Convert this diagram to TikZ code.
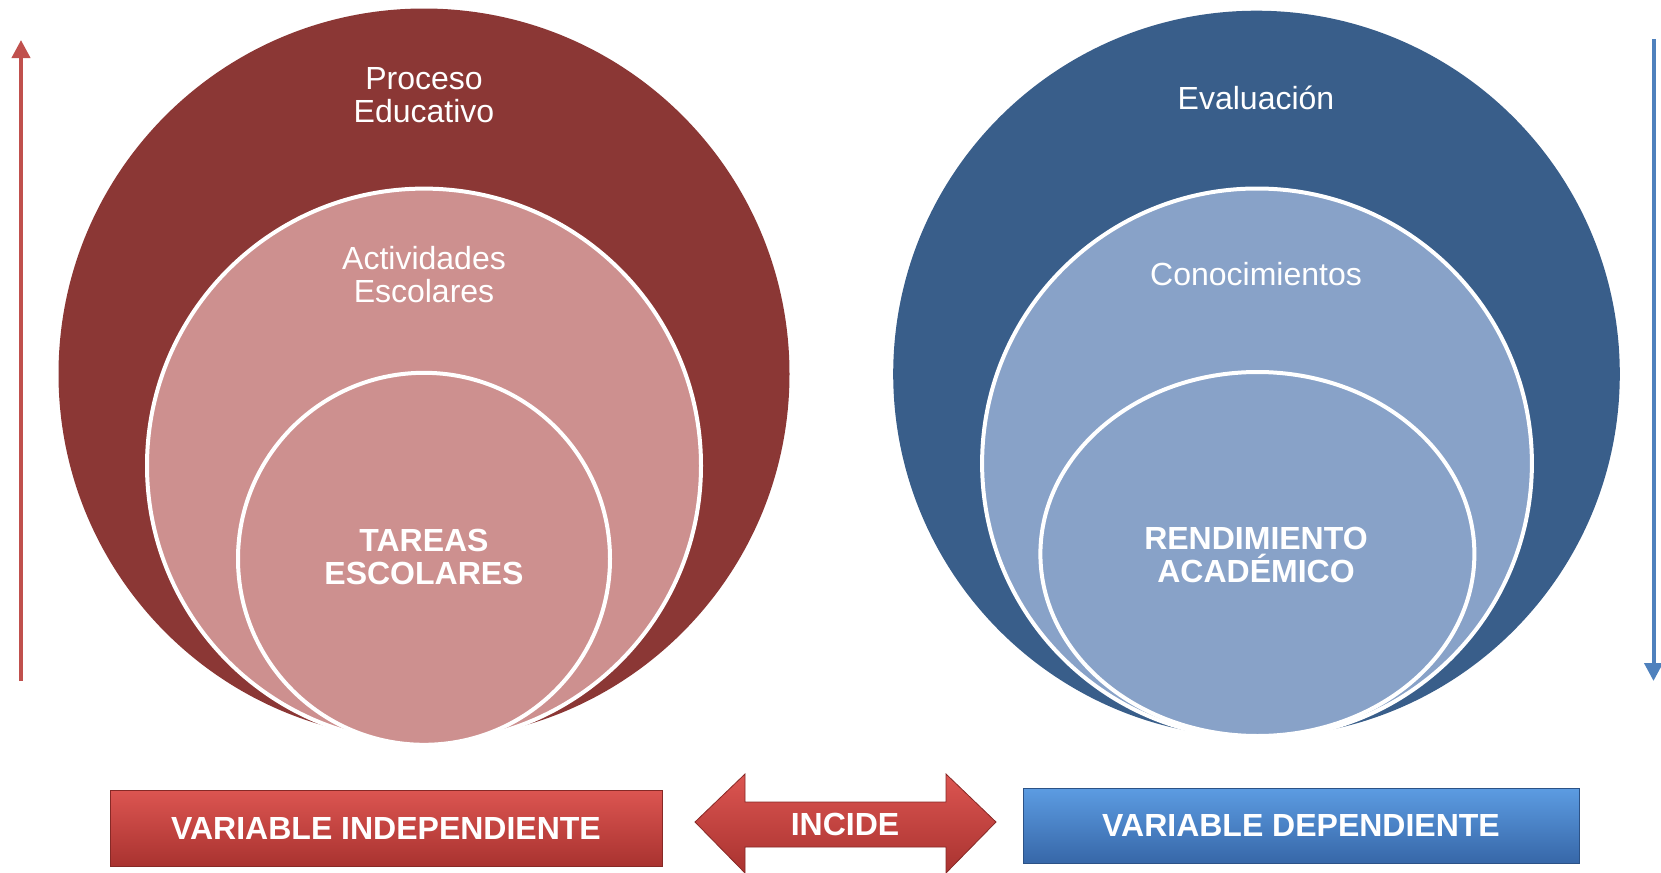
\documentclass[tikz,border=0pt]{standalone}
\usepackage{fontspec}
\setmainfont{Liberation Sans}
\usetikzlibrary{arrows.meta}
\definecolor{vinored}{HTML}{8B3735}
\definecolor{rosered}{HTML}{CD908F}
\definecolor{navyblue}{HTML}{395E8A}
\definecolor{lightblue}{HTML}{88A2C8}
\definecolor{arrowred}{HTML}{C0504D}
\definecolor{arrowblue}{HTML}{4F81BD}
\definecolor{boxredtop}{HTML}{DC5551}
\definecolor{boxredmid}{HTML}{CF4440}
\definecolor{boxredlow}{HTML}{A93330}
\definecolor{boxbluetop}{HTML}{5C9CE2}
\definecolor{boxbluemid}{HTML}{4582D0}
\definecolor{boxbluelow}{HTML}{3767A8}

\begin{document}
\begin{tikzpicture}[x=0.5pt, y=-0.5pt, font=\fontsize{16}{16.5}\selectfont,
    circletext/.style={text=white, align=center},
    boldtext/.style={text=white, align=center, font=\fontsize{16}{16.5}\selectfont\bfseries},
    ring/.style={draw=white, line width=2pt},
    redbar/.style={top color=boxredtop, middle color=boxredmid, bottom color=boxredlow, draw=boxredlow!80!black},
    bluebar/.style={top color=boxbluetop, middle color=boxbluemid, bottom color=boxbluelow, draw=boxbluelow!80!black},
    sidearrow/.style={line width=2pt, -{Triangle[length=9pt, width=9pt]}}]
    \useasboundingbox (0,0) rectangle (1661,873);
    % left circles
    \fill [vinored] (424, 374) circle (365.5);
    \filldraw [ring, fill=rosered] (424, 465.6) circle (277);
    \filldraw [ring, fill=rosered] (424, 558.8) circle (186);
    \node [circletext] (proceso)  at (424,  95.5) {Proceso\\Educativo};
    \node [circletext] (activ)    at (424, 274.5) {Actividades\\Escolares};
    \node [boldtext]   (tareas)   at (424, 556.5) {TAREAS\\ESCOLARES};
    % right circles
    \fill [navyblue] (1256.5, 374) circle (363.3);
    \filldraw [ring, fill=lightblue] (1257, 463.4) circle (274.9);
    \filldraw [ring, fill=lightblue] (1257.4, 554) ellipse [x radius=217, y radius=182];
    \node [circletext] (evalua)   at (1256,  97.5) {Evaluación};
    \node [circletext] (conoc)    at (1256, 274) {Conocimientos};
    \node [boldtext]   (rendim)   at (1256, 554.5) {RENDIMIENTO\\ACADÉMICO};
    % side arrows
    \coordinate (redlow)   at (21, 681);
    \coordinate (redtop)   at (21, 40);
    \coordinate (bluetop)  at (1653.5, 39);
    \coordinate (bluelow)  at (1653.5, 681);
    \draw [sidearrow, arrowred]  (redlow) -- (redtop);
    \draw [sidearrow, arrowblue] (bluetop) -- (bluelow);
    % bottom row
    \node [boldtext, redbar, minimum width=276pt, minimum height=38pt]
        (indep) at (386, 828) {VARIABLE INDEPENDIENTE};
    \node [boldtext, bluebar, minimum width=278pt, minimum height=37.5pt]
        (depen) at (1301, 825.5) {VARIABLE DEPENDIENTE};
    \shade [redbar]
        (695, 822) -- (745, 774) -- (745, 802) -- (946, 802) -- (946, 774) -- (996, 822)
        -- (946, 873) -- (946, 847) -- (745, 847) -- (745, 873) -- cycle;
    \node [boldtext] (incide) at (845, 824) {INCIDE};
\end{tikzpicture}
\end{document}
